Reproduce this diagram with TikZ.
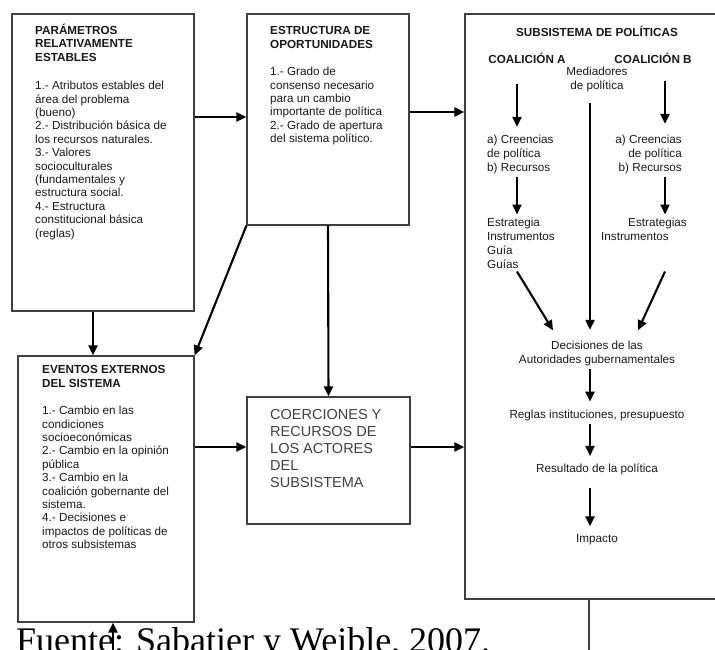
\documentclass[tikz,border=0pt]{standalone}
\usepackage{fontspec}
\setmainfont{Liberation Sans}
\newfontfamily\fuentefont{Liberation Serif}
\usetikzlibrary{positioning,arrows.meta}

\begin{document}
\begin{tikzpicture}[x=1pt, y=-1pt,
  caja/.style={rectangle, draw=black!75, line width=1.2pt, inner sep=0pt},
  textocaja/.style={anchor=north west, align=left, inner sep=0pt, text=black!90, font=\fontsize{11.7}{13.4}\selectfont},
  textosub/.style={align=center, inner sep=3pt, text=black!90, font=\fontsize{11.7}{14}\selectfont},
  negrita/.style={textosub, font=\bfseries\fontsize{11.7}{14}\selectfont},
  flecha/.style={-{Triangle[length=10pt,width=9pt]}, line width=2.1pt}]

    \useasboundingbox (0,0) rectangle (715,649);

    % cajas
    \node[caja, minimum width=182pt, minimum height=297pt] (param) at (103,162.5) {};
    \node[caja, minimum width=162pt, minimum height=211pt] (estr) at (328,119.5) {};
    \node[caja, minimum width=290pt, minimum height=585pt] (subsis) at (610,306.5) {};
    \node[caja, minimum width=176pt, minimum height=266pt] (eventos) at (106,489) {};
    \node[caja, minimum width=163pt, minimum height=127pt] (coerc) at (328.5,460.5) {};

    % textos de las cajas
    \node[textocaja] (paramtxt) at (35,24) {\textbf{PARÁMETROS}\\\textbf{RELATIVAMENTE}\\\textbf{ESTABLES}\\[15pt]
        1.- Atributos estables del\\área del problema\\(bueno)\\2.- Distribución básica de\\los recursos naturales.\\
        3.- Valores\\socioculturales\\(fundamentales y\\estructura social.\\4.- Estructura\\constitucional básica\\(reglas)};
    \node[textocaja] (estrtxt) at (270,26.5) {\textbf{ESTRUCTURA DE}\\\textbf{OPORTUNIDADES}\\[14pt]
        1.- Grado de\\consenso necesario\\para un cambio\\importante de política\\2.- Grado de apertura\\del sistema político.};
    \node[textocaja] (eventostxt) at (42,365.5) {\textbf{EVENTOS EXTERNOS}\\\textbf{DEL SISTEMA}\\[14pt]
        1.- Cambio en las\\condiciones\\socioeconómicas\\2.- Cambio en la opinión\\pública\\3.- Cambio en la\\
        coalición gobernante del\\sistema.\\4.- Decisiones e\\impactos de políticas de\\otros subsistemas};
    \node[textocaja, text=black!75, font=\fontsize{14.5}{17}\selectfont] (coerctxt) at (270,409.5)
        {COERCIONES Y\\RECURSOS DE\\LOS ACTORES\\DEL\\SUBSISTEMA};

    % subsistema de politicas
    \node[negrita] (subtit) at (597,31) {SUBSISTEMA DE POLÍTICAS};
    \node[negrita] (coalA) at (527,58) {COALICIÓN A};
    \node[negrita] (coalB) at (653,58) {COALICIÓN B};
    \node[textosub] (mediad) at (597,79) {Mediadores\\de política};
    \node[textosub, anchor=west, align=left] (creenA) at (484,154) {a) Creencias\\de política\\b) Recursos};
    \node[textosub, anchor=east, align=right] (creenB) at (685,154) {a) Creencias\\de política\\b) Recursos};
    \node[textosub, anchor=west, align=left] (estrA) at (484,243) {Estrategia\\Instrumentos\\Guía\\Guías};
    \node[textosub, anchor=west, align=left] (estrB) at (598,229) {\hspace*{27pt}Estrategias\\Instrumentos};
    \node[textosub] (decis) at (597,353) {Decisiones de las\\Autoridades gubernamentales};
    \node[textosub] (reglas) [below=38pt of decis] {Reglas instituciones, presupuesto};
    \node[textosub] (result) [below=37pt of reglas] {Resultado de la política};
    \node[textosub] (impacto) [below=53pt of result] {Impacto};

    \node[anchor=base west, inner sep=0pt, font=\fuentefont\fontsize{36}{40}\selectfont] (fuente) at (16,652)
        {Fuente: Sabatier y Weible, 2007.};
    \coordinate (abajoE) at (113,662);
    \coordinate (abajoS) at (589,662);

    % flechas entre cajas
    \draw[flecha] ([yshift=45.5pt]param.east) -- ([yshift=45.5pt]param.east -| estr.west);
    \draw[flecha] ([yshift=7.5pt]estr.east) -- ([yshift=7.5pt]estr.east -| subsis.west);
    \draw[flecha] ([xshift=-10pt]param.south) -- ([xshift=-10pt]param.south |- eventos.north);
    \draw[flecha] (estr.south west) -- (eventos.north east);
    \draw[flecha] (estr.south) -- (coerc.north);
    \draw[flecha] ([yshift=42pt]eventos.east) -- ([yshift=42pt]eventos.east -| coerc.west);
    \draw[flecha] ([yshift=13.5pt]coerc.east) -- ([yshift=13.5pt]coerc.east -| subsis.west);
    \draw[flecha] (abajoE) -- ([xshift=7pt]eventos.south);
    \draw[draw=black!75, line width=1.2pt] ([xshift=-21pt]subsis.south) -- (abajoS);

    % flechas del subsistema
    \draw[flecha, shorten <=18pt, shorten >=4.5pt] ([xshift=-10pt]coalA.south) -- ([xshift=-10pt]coalA.south |- creenA.north);
    \draw[flecha, shorten <=15pt, shorten >=7.5pt] ([xshift=12pt]coalB.south) -- ([xshift=12pt]coalB.south |- creenB.north);
    \draw[flecha] ([xshift=-10pt]coalA.south |- creenA.south) -- ([xshift=-10pt]coalA.south |- estrA.north);
    \draw[flecha] ([xshift=12pt]coalB.south |- creenB.south) -- ([xshift=12pt]coalB.south |- estrB.north);
    \draw[flecha] ([xshift=-10pt]coalA.south |- estrA.south) -- ([xshift=-44pt,yshift=7pt]decis.north);
    \draw[flecha] ([xshift=12pt]coalB.south |- estrA.south) -- ([xshift=41pt,yshift=7pt]decis.north);
    \draw[flecha, shorten <=8.5pt, shorten >=7.5pt] ([xshift=-7pt]mediad.south) -- ([xshift=-7pt]decis.north);
    \draw[flecha, shorten >=5pt] ([xshift=-7pt]decis.south) -- ([xshift=-7pt]reglas.north);
    \draw[flecha, shorten >=5pt] ([xshift=-7pt]reglas.south) -- ([xshift=-7pt]result.north);
    \draw[flecha, shorten <=10pt, shorten >=5pt] ([xshift=-7pt]result.south) -- ([xshift=-7pt]impacto.north);

\end{tikzpicture}
\end{document}
